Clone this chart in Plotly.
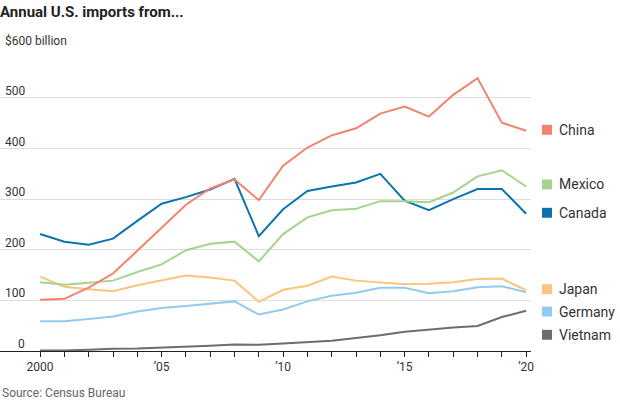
import plotly.graph_objects as go

years = list(range(2000, 2021))

china = [101, 103, 125, 153, 198, 243, 289, 321, 339, 298, 366, 402, 426, 440, 469, 483, 463, 506, 539, 451, 435]
mexico = [136, 131, 135, 139, 156, 171, 199, 212, 216, 177, 231, 264, 278, 281, 296, 296, 294, 313, 345, 357, 325]
canada = [231, 216, 210, 222, 257, 291, 304, 319, 340, 227, 280, 316, 325, 333, 350, 297, 278, 300, 320, 320, 271]
japan = [147, 127, 122, 118, 130, 139, 149, 145, 139, 97, 121, 129, 147, 139, 135, 132, 133, 136, 142, 143, 120]
germany = [59, 59, 63, 68, 78, 85, 89, 94, 98, 72, 82, 98, 109, 115, 125, 125, 114, 118, 126, 128, 116]
vietnam = [1, 1, 2.5, 4.5, 5, 6.6, 8.6, 10.6, 12.9, 12.3, 14.9, 17.5, 20.3, 25.6, 31, 38, 42.6, 46.6, 49.3, 67, 79.5]

series_names = ["China", "Mexico", "Canada", "Japan", "Germany", "Vietnam"]
series_values = [china, mexico, canada, japan, germany, vietnam]
series_colors = ["#f3826f", "#a4d48f", "#0a75ad", "#fcc47c", "#92cbf1", "#6d6d6d"]
label_y = [437, 329, 273, 122, 78, 32]

y_tick_vals = [0, 100, 200, 300, 400, 500]
y_tick_text = ["0", "100", "200", "300", "400", "500"]
x_tick_text = ["2000", "", "", "", "", "\u201905", "", "", "", "", "\u201910", "", "", "", "", "\u201915", "", "", "", "", "\u201920"]

FONT = "Roboto, 'Noto Sans', sans-serif"

fig = go.Figure()
# draw in reverse so China on top
for name, vals, col in reversed(list(zip(series_names, series_values, series_colors))):
    fig.add_trace(go.Scatter(x=years, y=vals, mode="lines", name=name,
                             line=dict(color=col, width=2), showlegend=False,
                             hoverinfo="skip"))

annotations = []
shapes = []
PW = 531.0
for name, col, ly in zip(series_names, series_colors, label_y):
    shapes.append(dict(type="rect", xref="paper", yref="y",
                       x0=542 / PW, x1=552 / PW, y0=ly - 9.8, y1=ly + 9.8,
                       fillcolor=col, line=dict(width=0)))
    annotations.append(dict(text=name, xref="paper", yref="y", x=557 / PW, y=ly,
                            xanchor="left", yanchor="middle", showarrow=False,
                            font=dict(family=FONT, size=14, color="#333333")))

for v, t in zip(y_tick_vals, y_tick_text):
    annotations.append(dict(text=t, xref="paper", yref="y", x=27 / PW, y=v,
                            xanchor="right", yanchor="middle", yshift=7, showarrow=False,
                            font=dict(family=FONT, size=12, color="#333333")))
annotations.append(dict(text="$600 billion", xref="paper", yref="y", x=3 / PW, y=600,
                        xanchor="left", yanchor="middle", yshift=6.5, showarrow=False,
                        font=dict(family=FONT, size=12, color="#333333")))
annotations.append(dict(text="Source: Census Bureau", xref="paper", yref="paper", x=0,
                        y=-0.138, xanchor="left", yanchor="middle", showarrow=False,
                        font=dict(family=FONT, size=12, color="#666666")))

fig.update_layout(
    width=620, height=400,
    margin=dict(l=0, r=89, t=47, b=49),
    paper_bgcolor="white", plot_bgcolor="white",
    title=dict(text="<b>Annual U.S. imports from...</b>", x=0, xref="container",
               xanchor="left", y=0.97, yref="container", yanchor="middle",
               font=dict(family=FONT, size=15, color="#222222")),
    xaxis=dict(range=[1998.35, 2020.2], tickmode="array", tickvals=years,
               ticktext=x_tick_text, ticks="outside", ticklen=5, tickcolor="#222222",
               tickwidth=1, showline=True, linecolor="#222222", linewidth=1,
               showgrid=False, zeroline=False,
               tickfont=dict(family=FONT, size=12, color="#333333")),
    yaxis=dict(range=[0, 600.5], tickvals=[100, 200, 300, 400, 500, 600],
               showticklabels=False, showgrid=True, gridcolor="#dddddd", gridwidth=1,
               zeroline=False, showline=False),
    annotations=annotations, shapes=shapes,
)

fig.write_html("out.html", config={"displayModeBar": False},
               post_script="document.body.style.margin='0';document.body.style.overflow='hidden';")
